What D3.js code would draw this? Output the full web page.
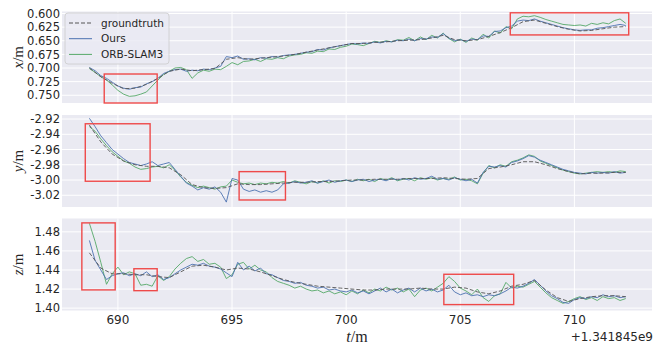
<!DOCTYPE html>
<html>
<head>
<meta charset="utf-8">
<script src="https://cdn.jsdelivr.net/npm/d3@7"></script>
<style>
  html, body { margin: 0; padding: 0; background: #fff; }
  svg { display: block; }
</style>
</head>
<body>
<div id="chart"></div>
<script>
// time grid (offset +1.341845e9)
const T0 = 688.75;
const GT_STEP = 0.5;
const EST_STEP = 0.25;
const xTicks = [690, 695, 700, 705, 710];
const seriesNames = ['groundtruth', 'Ours', 'ORB-SLAM3'];

// x panel
const xGT = [0.700, 0.716, 0.728, 0.738, 0.737, 0.730, 0.719, 0.706, 0.702, 0.705,
  0.703, 0.701, 0.684, 0.681, 0.684, 0.682, 0.680, 0.678, 0.675, 0.671,
  0.667, 0.663, 0.659, 0.655, 0.655, 0.653, 0.652, 0.650, 0.649, 0.648,
  0.645, 0.640, 0.648, 0.650, 0.648, 0.642, 0.635, 0.626, 0.615, 0.612,
  0.618, 0.624, 0.629, 0.632, 0.631, 0.628, 0.625, 0.624];
const xOurs = [0.699, 0.705, 0.714, 0.719, 0.726, 0.733, 0.737, 0.739,
  0.736, 0.735, 0.729, 0.725, 0.719, 0.710, 0.706, 0.703,
  0.702, 0.706, 0.704, 0.705, 0.702, 0.703, 0.700, 0.697,
  0.679, 0.681, 0.678, 0.684, 0.683, 0.685, 0.681, 0.682,
  0.679, 0.680, 0.677, 0.676, 0.675, 0.673, 0.671, 0.670,
  0.666, 0.667, 0.663, 0.661, 0.659, 0.657, 0.655, 0.656,
  0.654, 0.655, 0.652, 0.654, 0.651, 0.652, 0.649, 0.650,
  0.647, 0.650, 0.646, 0.647, 0.643, 0.644, 0.637, 0.645,
  0.650, 0.648, 0.651, 0.647, 0.648, 0.641, 0.642, 0.633,
  0.632, 0.626, 0.623, 0.614, 0.612, 0.613, 0.610, 0.614,
  0.617, 0.620, 0.623, 0.626, 0.628, 0.630, 0.631, 0.630,
  0.630, 0.627, 0.626, 0.624, 0.622, 0.620, 0.622];
const xOrb = [0.701, 0.708, 0.716, 0.722, 0.731, 0.741, 0.748, 0.752,
  0.751, 0.748, 0.744, 0.733, 0.722, 0.712, 0.706, 0.700,
  0.699, 0.703, 0.719, 0.709, 0.704, 0.706, 0.702, 0.703,
  0.697, 0.690, 0.694, 0.688, 0.687, 0.684, 0.688, 0.683,
  0.684, 0.681, 0.683, 0.678, 0.676, 0.675, 0.672, 0.673,
  0.669, 0.670, 0.665, 0.666, 0.662, 0.660, 0.656, 0.657,
  0.659, 0.655, 0.651, 0.653, 0.650, 0.652, 0.648, 0.649,
  0.644, 0.650, 0.643, 0.648, 0.640, 0.645, 0.636, 0.646,
  0.652, 0.647, 0.653, 0.645, 0.649, 0.638, 0.645, 0.632,
  0.636, 0.624, 0.628, 0.610, 0.605, 0.606, 0.604, 0.607,
  0.611, 0.614, 0.617, 0.620, 0.621, 0.622, 0.621, 0.623,
  0.618, 0.620, 0.617, 0.619, 0.613, 0.610, 0.618];

// y panel
const yGT = [-2.928, -2.950, -2.966, -2.975, -2.980, -2.982, -2.982, -2.984, -2.993, -3.006,
  -3.010, -3.011, -3.010, -3.005, -3.006, -3.006, -3.005, -3.004, -3.003, -3.003,
  -3.002, -3.002, -3.001, -3.000, -3.000, -2.999, -2.999, -2.999, -2.998, -2.998,
  -2.998, -2.997, -2.998, -2.999, -2.998, -2.985, -2.983, -2.980, -2.976, -2.976,
  -2.980, -2.985, -2.989, -2.992, -2.991, -2.991, -2.990, -2.990];
const yOurs = [-2.919, -2.930, -2.942, -2.951, -2.960, -2.966, -2.972, -2.977,
  -2.979, -2.981, -2.979, -2.976, -2.981, -2.979, -2.977, -2.986,
  -2.995, -3.004, -3.008, -3.013, -3.010, -3.012, -3.009, -3.016,
  -3.029, -2.998, -3.000, -3.012, -3.015, -3.013, -3.016, -3.014,
  -3.016, -3.013, -3.005, -3.004, -3.002, -3.004, -3.003, -3.001,
  -3.004, -3.002, -3.000, -3.003, -3.001, -3.000, -3.002, -3.000,
  -2.999, -3.002, -3.000, -2.999, -3.001, -2.998, -3.000, -2.998,
  -3.000, -2.997, -2.999, -2.998, -2.995, -2.999, -2.998, -3.000,
  -2.997, -2.999, -3.001, -2.999, -3.004, -2.990, -2.982, -2.983,
  -2.981, -2.983, -2.977, -2.975, -2.972, -2.968, -2.970, -2.974,
  -2.977, -2.980, -2.983, -2.986, -2.988, -2.990, -2.991, -2.992,
  -2.990, -2.991, -2.990, -2.991, -2.989, -2.991, -2.990];
const yOrb = [-2.930, -2.936, -2.946, -2.955, -2.963, -2.969, -2.975, -2.978,
  -2.983, -2.986, -2.985, -2.983, -2.982, -2.984, -2.980, -2.987,
  -2.996, -3.003, -3.007, -3.010, -3.008, -3.010, -3.012, -3.009,
  -3.008, -3.000, -3.003, -3.005, -3.004, -3.006, -3.004, -3.005,
  -3.003, -3.004, -3.002, -3.004, -3.001, -3.003, -3.005, -3.002,
  -3.004, -3.001, -3.004, -3.001, -3.002, -3.000, -3.002, -2.999,
  -3.001, -2.999, -3.002, -2.998, -3.000, -2.997, -3.001, -2.999,
  -2.998, -3.001, -2.997, -2.999, -2.997, -3.000, -2.998, -2.999,
  -2.996, -3.000, -2.999, -3.001, -3.005, -2.991, -2.981, -2.984,
  -2.980, -2.982, -2.976, -2.974, -2.971, -2.967, -2.969, -2.975,
  -2.978, -2.981, -2.984, -2.987, -2.989, -2.991, -2.992, -2.991,
  -2.990, -2.989, -2.990, -2.989, -2.990, -2.988, -2.989];

// z panel
const zGT = [1.458, 1.442, 1.436, 1.436, 1.435, 1.435, 1.433, 1.432, 1.438, 1.444,
  1.445, 1.443, 1.440, 1.442, 1.441, 1.438, 1.434, 1.430, 1.427, 1.425,
  1.423, 1.422, 1.421, 1.420, 1.419, 1.419, 1.420, 1.420, 1.420, 1.421,
  1.420, 1.420, 1.422, 1.421, 1.417, 1.415, 1.418, 1.423, 1.425, 1.429,
  1.419, 1.411, 1.407, 1.410, 1.412, 1.413, 1.413, 1.412];
const zOurs = [1.471, 1.450, 1.440, 1.430, 1.434, 1.436, 1.437, 1.434,
  1.436, 1.434, 1.438, 1.433, 1.435, 1.430, 1.432, 1.436,
  1.440, 1.443, 1.446, 1.445, 1.447, 1.444, 1.443, 1.441,
  1.437, 1.433, 1.448, 1.440, 1.444, 1.439, 1.442, 1.436,
  1.435, 1.432, 1.429, 1.428, 1.426, 1.427, 1.424, 1.423,
  1.421, 1.422, 1.419, 1.420, 1.418, 1.417, 1.419, 1.416,
  1.418, 1.415, 1.418, 1.421, 1.417, 1.420, 1.416, 1.419,
  1.421, 1.417, 1.421, 1.418, 1.420, 1.417, 1.419, 1.424,
  1.417, 1.414, 1.416, 1.413, 1.414, 1.412, 1.414, 1.413,
  1.415, 1.418, 1.422, 1.421, 1.423, 1.426, 1.430, 1.424,
  1.418, 1.413, 1.410, 1.406, 1.405, 1.409, 1.411, 1.410,
  1.412, 1.411, 1.414, 1.412, 1.413, 1.411, 1.412];
const zOrb = [1.489, 1.470, 1.448, 1.425, 1.436, 1.443, 1.435, 1.438,
  1.436, 1.424, 1.425, 1.423, 1.434, 1.429, 1.433, 1.441,
  1.447, 1.452, 1.454, 1.449, 1.451, 1.446, 1.447, 1.443,
  1.431, 1.435, 1.446, 1.448, 1.441, 1.445, 1.440, 1.438,
  1.432, 1.428, 1.426, 1.424, 1.421, 1.423, 1.420, 1.418,
  1.419, 1.416, 1.418, 1.415, 1.417, 1.414, 1.418, 1.415,
  1.419, 1.416, 1.420, 1.418, 1.422, 1.419, 1.421, 1.417,
  1.420, 1.412, 1.419, 1.421, 1.418, 1.422, 1.426, 1.433,
  1.428, 1.421, 1.418, 1.414, 1.420, 1.411, 1.407, 1.413,
  1.415, 1.427, 1.421, 1.423, 1.422, 1.425, 1.428, 1.422,
  1.416, 1.411, 1.408, 1.405, 1.407, 1.410, 1.412, 1.409,
  1.411, 1.408, 1.412, 1.410, 1.411, 1.408, 1.410];

// highlight boxes: [t0, t1, v0, v1]
const xBoxes = [[689.40, 691.72, 0.711, 0.7642], [707.19, 712.38, 0.5987, 0.6393]];
const yBoxes = [[688.57, 691.41, -2.9262, -3.0016], [695.31, 697.34, -2.989, -3.0262]];
const zBoxes = [[688.42, 689.88, 1.4894, 1.4191], [690.70, 691.72, 1.4413, 1.4183], [704.28, 707.34, 1.4355, 1.4037]];

const xTickVals = [0.600, 0.625, 0.650, 0.675, 0.700, 0.725, 0.750];
const yTickVals = [-3.02, -3.00, -2.98, -2.96, -2.94, -2.92];
const zTickVals = [1.40, 1.42, 1.44, 1.46, 1.48];

const width = 662, height = 347;
const left = 62, right = 652;
const colors = { gt: '#555555', ours: '#4c72b0', orb: '#55a868' };

const panels = [
  { label: 'x', gt: xGT, ours: xOurs, orb: xOrb, boxes: xBoxes, ticks: xTickVals, fmt: '.3f',
    top: 11.5, bottom: 103, domain: [0.7642, 0.5963] },
  { label: 'y', gt: yGT, ours: yOurs, orb: yOrb, boxes: yBoxes, ticks: yTickVals, fmt: '.2f',
    top: 115, bottom: 207, domain: [-3.0354, -2.9147] },
  { label: 'z', gt: zGT, ours: zOurs, orb: zOrb, boxes: zBoxes, ticks: zTickVals, fmt: '.2f',
    top: 218.5, bottom: 310.5, domain: [1.3975, 1.494] }
];

const svg = d3.select('#chart').append('svg')
  .attr('width', width)
  .attr('height', height);

const x = d3.scaleLinear().domain([687.55, 713.4]).range([left, right]);
const fmtHyphen = f => v => d3.format(f)(v).replace('\u2212', '-');

panels.forEach((p, pi) => {
  const y = d3.scaleLinear().domain(p.domain).range([p.bottom, p.top]);
  const g = svg.append('g');

  g.append('rect')
    .attr('x', left).attr('y', p.top)
    .attr('width', right - left).attr('height', p.bottom - p.top)
    .attr('fill', '#eaeaf2');

  // grid
  g.selectAll('.hgrid').data(p.ticks).enter().append('line')
    .attr('x1', left).attr('x2', right)
    .attr('y1', d => y(d)).attr('y2', d => y(d))
    .attr('stroke', '#fff').attr('stroke-width', 1);
  g.selectAll('.vgrid').data(xTicks).enter().append('line')
    .attr('x1', d => x(d)).attr('x2', d => x(d))
    .attr('y1', p.top).attr('y2', p.bottom)
    .attr('stroke', '#fff').attr('stroke-width', 1);

  // y tick labels
  g.selectAll('.ytick').data(p.ticks).enter().append('text')
    .attr('x', left - 2)
    .attr('y', d => y(d))
    .attr('dy', '0.36em')
    .attr('text-anchor', 'end')
    .style('font-family', 'DejaVu Sans, sans-serif')
    .style('font-size', '11.5px')
    .style('fill', '#262626')
    .text(fmtHyphen(p.fmt));

  // y label
  const cy = (p.top + p.bottom) / 2;
  const lab = g.append('text')
    .attr('transform', `translate(18,${cy}) rotate(-90)`)
    .attr('text-anchor', 'middle')
    .attr('dominant-baseline', 'central')
    .style('font-family', 'Liberation Serif, DejaVu Serif, serif')
    .style('font-size', '15px')
    .style('fill', '#262626');
  lab.append('tspan').style('font-style', 'italic').text(p.label);
  lab.append('tspan').text('/m');

  const clipId = `clip-${pi}`;
  svg.append('clipPath').attr('id', clipId).append('rect')
    .attr('x', left).attr('y', p.top)
    .attr('width', right - left).attr('height', p.bottom - p.top);

  const line = step => d3.line()
    .x((d, i) => x(T0 + i * step))
    .y(d => y(d));

  const lines = g.append('g').attr('clip-path', `url(#${clipId})`);
  lines.append('path').datum(p.orb)
    .attr('d', line(EST_STEP))
    .attr('fill', 'none').attr('stroke', colors.orb).attr('stroke-width', 0.9);
  lines.append('path').datum(p.ours)
    .attr('d', line(EST_STEP))
    .attr('fill', 'none').attr('stroke', colors.ours).attr('stroke-width', 0.9);
  lines.append('path').datum(p.gt)
    .attr('d', line(GT_STEP))
    .attr('fill', 'none').attr('stroke', colors.gt).attr('stroke-width', 0.9)
    .attr('stroke-dasharray', '4,2');

  // red boxes
  g.selectAll('.box').data(p.boxes).enter().append('rect')
    .attr('x', d => x(d[0]))
    .attr('y', d => Math.min(y(d[2]), y(d[3])))
    .attr('width', d => x(d[1]) - x(d[0]))
    .attr('height', d => Math.abs(y(d[3]) - y(d[2])))
    .attr('fill', 'none')
    .attr('stroke', '#ee4a4a')
    .attr('stroke-width', 1.4);
});

// x ticks on bottom panel
const last = panels[panels.length - 1];
svg.selectAll('.xtick').data(xTicks).enter().append('text')
  .attr('x', d => x(d))
  .attr('y', last.bottom + 13)
  .attr('text-anchor', 'middle')
  .style('font-family', 'DejaVu Sans, sans-serif')
  .style('font-size', '12px')
  .style('fill', '#262626')
  .text(d => d);

svg.append('text')
  .attr('x', right + 1)
  .attr('y', 341)
  .attr('text-anchor', 'end')
  .style('font-family', 'DejaVu Sans, sans-serif')
  .style('font-size', '12px')
  .style('fill', '#262626')
  .text('+1.341845e9');

const xl = svg.append('text')
  .attr('x', (left + right) / 2)
  .attr('y', 342)
  .attr('text-anchor', 'middle')
  .style('font-family', 'Liberation Serif, DejaVu Serif, serif')
  .style('font-size', '16px')
  .style('fill', '#262626');
xl.append('tspan').style('font-style', 'italic').text('t');
xl.append('tspan').text('/m');

// legend in top panel
const legend = svg.append('g').attr('transform', 'translate(65,13)');
legend.append('rect')
  .attr('width', 104).attr('height', 51).attr('rx', 3)
  .attr('fill', '#eaeaf2').attr('fill-opacity', 0.8)
  .attr('stroke', '#cccccc').attr('stroke-width', 0.8);
const legendStyles = [
  { c: colors.gt, dash: '4,2' },
  { c: colors.ours, dash: null },
  { c: colors.orb, dash: null }
];
const items = legend.selectAll('.item').data(seriesNames).enter().append('g')
  .attr('transform', (d, i) => `translate(0,${10 + i * 15.7})`);
items.append('line')
  .attr('x1', 4).attr('x2', 27)
  .attr('stroke', (d, i) => legendStyles[i].c)
  .attr('stroke-width', 1)
  .attr('stroke-dasharray', (d, i) => legendStyles[i].dash);
items.append('text')
  .attr('x', 36)
  .attr('dy', '0.35em')
  .style('font-family', 'DejaVu Sans, sans-serif')
  .style('font-size', '10.5px')
  .style('fill', '#262626')
  .text(d => d);
</script>
</body>
</html>
